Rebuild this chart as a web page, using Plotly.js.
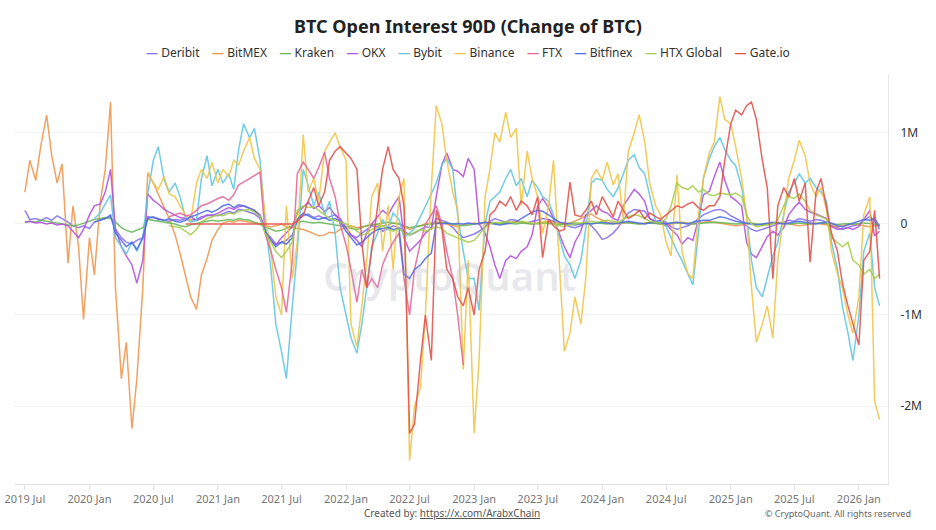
<!DOCTYPE html>
<html><head><meta charset="utf-8">
<script src="https://cdn.plot.ly/plotly-3.0.1.min.js"></script>
<style>html,body{margin:0;padding:0;background:#fff}#chart{width:936px;height:530px}</style>
</head><body><div id="chart"></div>
<script>
// Semi-monthly observation dates
const dates = [
'2019-07-01','2019-07-15','2019-08-01','2019-08-15','2019-09-01','2019-09-15','2019-10-01','2019-10-15','2019-11-01','2019-11-15','2019-12-01','2019-12-15',
'2020-01-01','2020-01-15','2020-02-01','2020-02-15','2020-03-01','2020-03-15','2020-04-01','2020-04-15','2020-05-01','2020-05-15','2020-06-01','2020-06-15',
'2020-07-01','2020-07-15','2020-08-01','2020-08-15','2020-09-01','2020-09-15','2020-10-01','2020-10-15','2020-11-01','2020-11-15','2020-12-01','2020-12-15',
'2021-01-01','2021-01-15','2021-02-01','2021-02-15','2021-03-01','2021-03-15','2021-04-01','2021-04-15','2021-05-01','2021-05-15','2021-06-01','2021-06-15',
'2021-07-01','2021-07-15','2021-08-01','2021-08-15','2021-09-01','2021-09-15','2021-10-01','2021-10-15','2021-11-01','2021-11-15','2021-12-01','2021-12-15',
'2022-01-01','2022-01-15','2022-02-01','2022-02-15','2022-03-01','2022-03-15','2022-04-01','2022-04-15','2022-05-01','2022-05-15','2022-06-01','2022-06-15',
'2022-07-01','2022-07-15','2022-08-01','2022-08-15','2022-09-01','2022-09-15','2022-10-01','2022-10-15','2022-11-01','2022-11-15','2022-12-01','2022-12-15',
'2023-01-01','2023-01-15','2023-02-01','2023-02-15','2023-03-01','2023-03-15','2023-04-01','2023-04-15','2023-05-01','2023-05-15','2023-06-01','2023-06-15',
'2023-07-01','2023-07-15','2023-08-01','2023-08-15','2023-09-01','2023-09-15','2023-10-01','2023-10-15','2023-11-01','2023-11-15','2023-12-01','2023-12-15',
'2024-01-01','2024-01-15','2024-02-01','2024-02-15','2024-03-01','2024-03-15','2024-04-01','2024-04-15','2024-05-01','2024-05-15','2024-06-01','2024-06-15',
'2024-07-01','2024-07-15','2024-08-01','2024-08-15','2024-09-01','2024-09-15','2024-10-01','2024-10-15','2024-11-01','2024-11-15','2024-12-01','2024-12-15',
'2025-01-01','2025-01-15','2025-02-01','2025-02-15','2025-03-01','2025-03-15','2025-04-01','2025-04-15','2025-05-01','2025-05-15','2025-06-01','2025-06-15',
'2025-07-01','2025-07-15','2025-08-01','2025-08-15','2025-09-01','2025-09-15','2025-10-01','2025-10-15','2025-11-01','2025-11-15','2025-12-01','2025-12-15',
'2026-01-01','2026-01-15','2026-02-01','2026-02-15','2026-03-01'
];

// 90-day change of open interest, in thousands of BTC
const deribit = [
150,50,60,40,70,40,90,60,20,-20,-40,-20,
-50,20,40,60,80,-60,-150,-200,-220,-180,-150,80,
70,60,40,30,50,40,60,40,50,80,90,100,
90,110,140,120,160,150,130,110,60,-80,-150,-220,
-200,-180,-120,40,90,110,70,90,60,80,100,40,
-40,-120,-150,-100,-60,-20,-30,-80,-50,-20,-40,-80,
-120,-100,-60,-30,-40,60,40,20,-40,-100,-150,-130,
-110,-80,-30,30,60,40,20,50,40,20,10,30,
40,60,50,30,20,0,-30,-40,-20,20,-20,-80,
-170,-150,-100,-40,40,120,160,150,140,60,30,40,
20,-30,-60,-40,-20,10,60,100,130,150,160,140,
90,60,30,-20,-60,-80,-60,-40,-20,0,20,40,
30,60,40,30,50,40,20,-20,-40,-60,-40,-20,
-10,40,80,30,-60];
const bitmex = [
350,700,480,850,1200,760,450,660,-430,200,-250,-1050,
-150,-560,250,600,1340,-700,-1700,-1300,-2250,-1700,-700,560,
450,320,180,60,-120,-320,-560,-800,-940,-560,-380,-180,
-60,10,30,20,40,30,20,10,0,-20,-30,-20,
0,-30,-40,-50,-60,-80,-110,-130,-120,-90,-100,-60,
-40,-20,-40,-30,-20,0,-10,-20,-10,10,0,-30,
-60,-40,-20,0,10,20,10,0,-20,-30,-10,0,
10,0,10,20,10,0,10,20,30,20,10,0,
10,20,30,20,10,0,10,30,60,90,110,70,
40,20,10,0,10,20,10,0,10,20,10,0,
-10,0,10,20,10,0,10,20,30,20,10,0,
-10,-20,-10,0,10,0,-10,0,10,20,10,0,
-10,-20,-10,0,10,0,-10,-20,-30,-20,-10,0,
-10,-20,-30,-20,-10];
const kraken = [
20,30,20,40,30,20,10,0,-10,-20,-10,10,
30,50,60,70,60,20,-40,-70,-90,-70,-40,50,
40,30,20,10,0,-20,-30,-10,10,20,30,40,
30,40,50,40,60,50,40,20,0,-30,-60,-80,
-70,-50,-20,20,30,20,10,20,10,0,-10,-20,
-30,-50,-60,-40,-20,-10,0,10,20,10,0,-20,
-40,-30,-20,-10,0,10,20,10,0,-10,-20,-10,
0,10,20,10,0,5,10,5,0,10,5,0,
5,10,5,0,-5,0,5,10,5,0,5,10,
5,0,5,10,15,10,5,0,5,10,5,0,
5,10,15,10,5,0,5,10,15,20,15,10,
5,0,5,10,5,0,-5,0,5,10,5,0,
5,10,5,0,5,10,5,0,-5,0,5,0,
5,10,5,0,-5];
const okx = [
20,30,10,20,0,10,-10,0,-20,-80,-150,-60,
100,200,220,350,600,-50,-250,-350,-450,-650,-400,330,
260,220,160,130,100,70,60,80,40,60,100,90,
120,150,180,160,190,200,170,150,100,-50,-180,-230,
-150,-100,-30,120,180,240,170,200,140,180,100,60,
-40,-120,-180,-250,-100,0,80,150,100,200,300,-150,
-300,-250,-180,-100,-50,300,650,780,600,580,520,720,
600,0,-100,-250,-450,-600,-400,-350,-380,-300,-250,-120,
200,280,180,60,-100,-250,-370,-200,-80,100,150,200,
140,120,60,40,200,280,380,330,250,60,20,30,
0,-60,-120,-220,-150,-180,50,320,360,520,680,480,
300,260,200,-200,-330,-370,-250,-140,-80,-120,-40,100,
180,240,160,130,110,90,60,-30,-60,-50,-40,-60,
-30,50,150,-130,-80];
const bybit = [
60,120,220,320,-150,-250,-330,-200,-300,-150,330,
700,850,480,350,450,300,60,20,40,500,750,420,
600,450,550,380,820,1100,950,1050,700,50,-500,-1100,
-1400,-1700,-900,-300,600,430,200,350,100,250,-100,-700,
-1000,-1250,-1420,-1100,-700,-250,-100,50,-50,120,50,-150,
-100,-50,80,200,350,450,650,720,600,100,-300,-600,
-600,-950,0,250,300,350,500,600,420,500,300,480,
400,300,250,100,-150,-350,-450,-600,-400,-50,450,500,
480,380,300,400,550,700,760,620,550,300,30,20,
-30,-150,-300,-400,-550,-670,-100,500,720,850,950,820,
700,640,400,100,-400,-700,-800,-600,-350,-200,100,350,
450,550,450,500,400,350,250,-200,-500,-900,-1200,-1500,
-1000,-300,-100,-700,-900];
const binance = [
570,
450,380,520,330,300,200,100,30,450,600,500,680,
450,600,520,700,650,800,950,720,600,100,-300,-800,
-1000,200,-600,-200,980,350,500,250,800,900,1000,850,
700,-1100,-1350,-900,-400,300,450,-300,200,-500,300,500,
-2600,-2000,-1800,-1000,400,1300,1100,700,350,150,-1600,-400,
-2300,-1500,300,600,1000,900,1230,950,1050,200,800,500,
300,-100,200,700,-400,-1400,-1200,-800,-1100,-600,500,600,
480,680,430,550,50,800,1000,1200,900,450,200,100,
-200,-350,540,-300,-550,-600,100,500,780,900,1400,1150,
1100,850,500,100,-700,-1300,-1100,-900,-1250,-400,100,500,
700,920,750,450,300,400,150,-300,-550,-700,-1000,-1200,
-800,100,300,-1950,-2150];
const ftx = [
80,100,120,90,100,150,200,220,250,
280,300,260,320,430,460,500,540,570,-100,-300,-500,
-700,-970,-400,550,680,600,500,620,790,500,300,0,
-230,-500,-860,-500,-700,-600,-700,-450,-300,-200,-100,-600,
-1000,-500,-200,0,100,200,0,-300,-600,-1000,-1550];
const bitfinex = [
20,40,60,100,-100,-180,-250,-200,-280,-150,60,
80,50,40,60,30,20,40,80,100,120,150,130,
160,200,220,180,210,200,170,150,80,-80,-180,-250,
-200,-220,-150,50,120,90,60,50,70,40,60,30,
-80,-150,-230,-200,-150,-100,-60,-50,-40,-60,-50,-550,
-600,-500,-450,-380,-320,10,0,10,0,5,0,10,
0,5,20,10,0,-10,0,10,20,60,100,130,
150,140,100,60,20,10,0,-10,0,10,0,10,
20,10,0,10,20,30,20,10,0,10,20,10,
0,10,20,10,0,20,30,40,40,60,80,70,
50,30,20,10,0,-10,0,10,20,10,0,10,
20,30,20,10,0,10,20,10,-20,-30,-10,10,
30,50,40,60,-30];
const htx = [
-20,-30,-40,-80,-120,-60,20,60,80,
100,90,120,110,140,150,160,130,80,-100,-200,-300,
-370,-300,-200,150,200,180,190,150,100,60,40,20,
0,-30,-80,-120,-100,-60,-40,-20,-60,-80,-50,-100,
-120,-90,-60,-80,-50,-30,-50,-100,-130,-150,-180,-200,
-180,-120,-40,0,20,10,30,20,10,30,20,10,
0,10,20,0,-20,-30,-10,0,10,20,30,20,
30,40,30,20,50,80,100,90,60,30,20,10,
60,200,450,400,380,420,350,380,320,310,340,330,
320,340,300,100,0,-30,-20,-10,0,50,200,300,
280,330,250,150,100,80,50,-150,-200,-250,-200,-400,
-450,-550,-500,-600,-550];
const gateio = [
0,0,0,0,0,0,
0,0,0,0,0,0,0,0,0,0,0,0,
0,0,0,30,100,250,400,200,350,700,800,850,
780,720,600,-200,-700,-300,200,600,850,600,500,200,
-2300,-2200,-1500,-1000,-1500,150,-50,-500,-600,-800,-900,-700,
-1000,-500,-300,100,150,250,200,300,150,250,200,100,
300,-370,50,-20,-80,-60,460,100,80,150,250,100,
300,200,80,250,150,60,100,150,60,120,80,50,
100,150,200,180,220,240,180,150,200,200,300,700,
1100,1250,1200,1300,1340,1150,700,400,-600,200,400,300,
500,250,450,-420,350,500,200,-100,-300,-650,-900,-1100,
-1330,-400,-300,150,-600];

const seriesNames  = ['Deribit','BitMEX','Kraken','OKX','Bybit','Binance','FTX','Bitfinex','HTX Global','Gate.io'];
const seriesValues = [deribit, bitmex, kraken, okx, bybit, binance, ftx, bitfinex, htx, gateio];
const seriesStarts = ['2019-07-01','2019-07-01','2019-07-01','2019-07-01','2020-01-15','2020-06-15','2020-08-15','2020-01-15','2020-08-15','2020-10-01'];
const seriesColors = ['#8270ee','#f0954c','#67b85a','#b24fde','#5ec6e2','#f0c545','#e4679a','#4d6ce8','#a3cf48','#e3504c'];

const yTickVals  = [1000000, 0, -1000000, -2000000];
const yTickText  = ['1M', '0', '-1M', '-2M'];

const traces = seriesNames.map((name, k) => {
  const s = dates.indexOf(seriesStarts[k]);
  const vals = seriesValues[k];
  return {
    type: 'scatter', mode: 'lines', name: name,
    x: dates.slice(s, s + vals.length),
    y: vals.map(v => v * 1000),
    line: {color: seriesColors[k], width: 1.5},
    opacity: 0.88,
    showlegend: false,
    hovertemplate: name + ': %{y:,.0f}<extra></extra>'
  };
});

const legendText = seriesNames.map((n, k) =>
  '<span style="color:' + seriesColors[k] + ';font-weight:bold">—</span> ' + n
).join('\u00a0\u00a0\u00a0\u00a0');

const FONT = 'Noto Sans, Open Sans, DejaVu Sans, sans-serif';

const layout = {
  width: 936, height: 530,
  margin: {l: 14, r: 48, t: 75, b: 46},
  paper_bgcolor: '#ffffff', plot_bgcolor: '#ffffff',
  font: {family: FONT, color: '#333'},
  title: {
    text: 'BTC Open Interest 90D (Change of BTC)',
    font: {family: FONT, size: 18, color: '#222', weight: 700},
    x: 0.5, xanchor: 'center', xref: 'container',
    y: 0.949, yanchor: 'middle', yref: 'container'
  },
  xaxis: {
    type: 'date',
    range: ['2019-05-31', '2026-03-25'],
    tick0: '2019-07-01', dtick: 'M6', tickformat: '%Y %b',
    showgrid: false, zeroline: false,
    showline: true, linecolor: '#e3e3e3', linewidth: 1,
    ticks: 'outside', ticklen: 5, tickcolor: '#e0e0e0',
    tickfont: {family: FONT, size: 11, color: '#777'}
  },
  yaxis: {
    side: 'right',
    range: [-2857000, 1637000],
    tickvals: yTickVals, ticktext: yTickText,
    showgrid: true, gridcolor: '#f3f3f3', zeroline: false,
    showline: true, linecolor: '#e6e6e6', linewidth: 1,
    ticks: '', ticklabelstandoff: 9,
    tickfont: {family: FONT, size: 12, color: '#333'}
  },
  annotations: [
    {text: 'CryptoQuant', xref: 'paper', yref: 'paper', x: 0.498, y: 0.51,
     xanchor: 'center', yanchor: 'middle', showarrow: false,
     font: {family: FONT, size: 40, color: 'rgba(175,175,190,0.28)', weight: 600}},
    {text: legendText, xref: 'paper', yref: 'paper', x: 0.519, y: 1.054,
     xanchor: 'center', yanchor: 'middle', showarrow: false,
     font: {family: FONT, size: 12, color: '#333'}},
    {text: 'Created by: <u>https://x.com/ArabxChain</u>', xref: 'paper', yref: 'paper',
     x: 0.501, y: -0.071, xanchor: 'center', yanchor: 'middle', showarrow: false,
     font: {family: FONT, size: 10, color: '#555'}},
    {text: '© CryptoQuant. All rights reserved', xref: 'paper', yref: 'paper',
     x: 1.0286, y: -0.073, xanchor: 'right', yanchor: 'middle', showarrow: false,
     font: {family: FONT, size: 9, color: '#666'}}
  ],
  hovermode: 'x'
};

Plotly.newPlot('chart', traces, layout, {displayModeBar: false, responsive: false});
</script></body></html>
